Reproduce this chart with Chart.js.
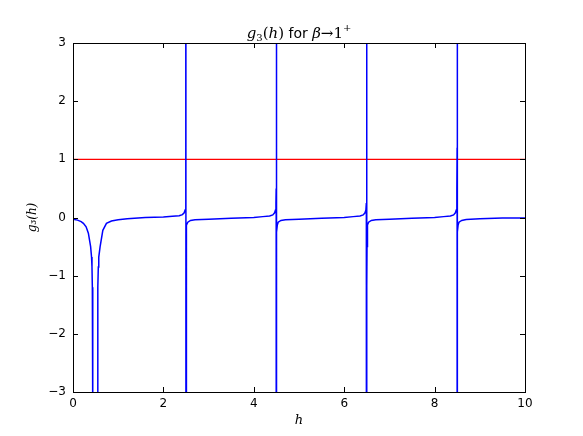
<!DOCTYPE html>
<html>
<head>
<meta charset="utf-8">
<script src="https://cdn.jsdelivr.net/npm/chart.js@4.4.1/dist/chart.umd.min.js"></script>
<style>
  html, body { margin: 0; padding: 0; background: #fff; }
  #wrap { width: 583px; height: 436px; }
</style>
</head>
<body>
<div id="wrap"><canvas id="g3Chart" width="583" height="436"></canvas></div>
<script>
// curve g3(h) (values beyond +-3 are clipped)
var hValues = [0, 0.1, 0.18, 0.23, 0.29, 0.34, 0.39, 0.41, 0.42, 0.428, 0.434, 0.44, 0.49, 0.54, 0.546, 0.552, 0.56, 0.57, 0.6, 0.66, 0.74, 0.85, 1.0, 1.2, 1.6, 2.0,
    2.2, 2.35, 2.42, 2.46, 2.48, 2.49, 2.495, 2.498, 2.4995,
    2.5005, 2.502, 2.505, 2.51, 2.52, 2.54, 2.6, 2.7, 3.0, 3.5, 4.0,
    4.2, 4.35, 4.42, 4.46, 4.48, 4.49, 4.495, 4.498, 4.4995,
    4.5005, 4.502, 4.505, 4.51, 4.52, 4.54, 4.6, 4.7, 5.0, 5.5, 6.0,
    6.2, 6.35, 6.42, 6.46, 6.48, 6.49, 6.495, 6.498, 6.4995,
    6.5005, 6.502, 6.505, 6.51, 6.52, 6.54, 6.6, 6.7, 7.0, 7.5, 8.0,
    8.2, 8.35, 8.42, 8.46, 8.48, 8.49, 8.495, 8.498, 8.4995,
    8.5005, 8.502, 8.505, 8.51, 8.52, 8.54, 8.6, 8.7, 9.0, 9.5, 10.0];
var gValues = [-0.03, -0.045, -0.07, -0.1, -0.16, -0.27, -0.5, -0.68, -0.85, -1.2, -2.0, -3.5, -25, -3.5, -2.0, -1.2, -0.85, -0.68, -0.5, -0.22, -0.1, -0.06, -0.04, -0.02, 0.0, 0.01,
    0.02, 0.03, 0.05, 0.08, 0.13, 0.25, 0.5, 1.2, 40,
    -40, -1.2, -0.5, -0.25, -0.13, -0.08, -0.05, -0.04, -0.03, -0.015, 0.0,
    0.015, 0.025, 0.045, 0.08, 0.13, 0.25, 0.5, 1.2, 40,
    -40, -1.2, -0.5, -0.25, -0.13, -0.08, -0.05, -0.04, -0.03, -0.015, 0.0,
    0.015, 0.025, 0.045, 0.08, 0.13, 0.25, 0.5, 1.2, 40,
    -40, -1.2, -0.5, -0.25, -0.13, -0.08, -0.05, -0.04, -0.03, -0.015, 0.0,
    0.015, 0.025, 0.045, 0.08, 0.13, 0.25, 0.5, 1.2, 40,
    -40, -1.2, -0.5, -0.25, -0.13, -0.08, -0.05, -0.035, -0.02, -0.01, -0.01];

// the red line at g = 1
var unityH = [0, 10];
var unityG = [1, 1];

var xTicks = [0, 2, 4, 6, 8, 10];
var yTicks = [-3, -2, -1, 0, 1, 2, 3];

function toPoints(xs, ys) {
    return xs.map(function (x, i) { return { x: x, y: ys[i] }; });
}

// frame, inward ticks on all sides, title (matplotlib look)
var framePlugin = {
    id: 'frame',
    afterDraw: function (chart) {
        var ctx = chart.ctx;
        var a = chart.chartArea;
        var xs = chart.scales.x, ys = chart.scales.y;
        ctx.save();
        ctx.strokeStyle = '#000';
        ctx.lineWidth = 1;
        ctx.strokeRect(Math.round(a.left) + 0.5, Math.round(a.top) + 0.5,
            Math.round(a.right - a.left), Math.round(a.bottom - a.top));
        ctx.beginPath();
        xTicks.forEach(function (v) {
            var px = Math.round(xs.getPixelForValue(v)) + 0.5;
            ctx.moveTo(px, a.bottom); ctx.lineTo(px, a.bottom - 5);
            ctx.moveTo(px, a.top); ctx.lineTo(px, a.top + 5);
        });
        yTicks.forEach(function (v) {
            var py = Math.round(ys.getPixelForValue(v)) + 0.5;
            ctx.moveTo(a.left, py); ctx.lineTo(a.left + 5, py);
            ctx.moveTo(a.right, py); ctx.lineTo(a.right - 5, py);
        });
        ctx.stroke();

        // title: g3(h) for beta -> 1+
        var parts = [
            { t: 'g', f: 'italic 15px "DejaVu Serif"', dy: 0 },
            { t: '3', f: '10px "DejaVu Serif"', dy: 3 },
            { t: '(', f: '15px "DejaVu Serif"', dy: 0 },
            { t: 'h', f: 'italic 15px "DejaVu Serif"', dy: 0 },
            { t: ')', f: '15px "DejaVu Serif"', dy: 0 },
            { t: ' for ', f: '14px "DejaVu Sans"', dy: 0 },
            { t: 'β', f: 'italic 15px "DejaVu Serif"', dy: 0 },
            { t: '→', f: '15px "DejaVu Serif"', dy: 0 },
            { t: '1', f: '15px "DejaVu Serif"', dy: 0 },
            { t: '+', f: '10px "DejaVu Serif"', dy: -7 }
        ];
        var total = 0;
        parts.forEach(function (p) { ctx.font = p.f; p.w = ctx.measureText(p.t).width; total += p.w; });
        var x0 = (a.left + a.right) / 2 - total / 2;
        ctx.fillStyle = '#000';
        ctx.textBaseline = 'alphabetic';
        ctx.textAlign = 'left';
        parts.forEach(function (p) {
            ctx.font = p.f;
            ctx.fillText(p.t, x0, 38 + p.dy);
            x0 += p.w;
        });
        ctx.restore();
    }
};

var ctx = document.getElementById('g3Chart').getContext('2d');
new Chart(ctx, {
    type: 'scatter',
    data: {
        datasets: [{
            label: 'g3',
            data: toPoints(hValues, gValues),
            showLine: true,
            borderColor: 'rgb(0, 0, 255)',
            borderWidth: 1.5,
            pointRadius: 0,
            fill: false,
            tension: 0
        }, {
            label: 'unity',
            data: toPoints(unityH, unityG),
            showLine: true,
            borderColor: 'rgb(255, 0, 0)',
            borderWidth: 1.3,
            pointRadius: 0,
            fill: false
        }]
    },
    options: {
        responsive: false,
        animation: false,
        layout: { padding: { left: 0, top: 43, right: 58, bottom: 0 } },
        plugins: {
            legend: { display: false },
            tooltip: { enabled: false },
            title: { display: false }
        },
        scales: {
            x: {
                type: 'linear',
                min: 0, max: 10,
                afterFit: function (scale) { scale.height = 44; },
                afterBuildTicks: function (scale) { scale.ticks = xTicks.map(function (v) { return { value: v }; }); },
                grid: { display: false, drawTicks: false },
                border: { display: false },
                ticks: {
                    color: '#000',
                    padding: 5,
                    font: { family: 'DejaVu Sans', size: 12 },
                    callback: function (v) { return String(v).replace('-', '\u2212'); }
                },
                title: {
                    display: true,
                    text: 'h',
                    color: '#000',
                    padding: { top: 0, bottom: 8 },
                    font: { family: 'DejaVu Serif', size: 13, style: 'italic' }
                }
            },
            y: {
                type: 'linear',
                min: -3, max: 3,
                afterFit: function (scale) { scale.width = 73; },
                afterBuildTicks: function (scale) { scale.ticks = yTicks.map(function (v) { return { value: v }; }); },
                grid: { display: false, drawTicks: false },
                border: { display: false },
                ticks: {
                    color: '#000',
                    padding: 7,
                    font: { family: 'DejaVu Sans', size: 12 },
                    callback: function (v) { return String(v).replace('-', '\u2212'); }
                },
                title: {
                    display: true,
                    text: 'g₃(h)',
                    color: '#000',
                    padding: { top: 26, bottom: 0 },
                    font: { family: 'DejaVu Serif', size: 12, style: 'italic' }
                }
            }
        }
    },
    plugins: [framePlugin]
});
</script>
</body>
</html>
